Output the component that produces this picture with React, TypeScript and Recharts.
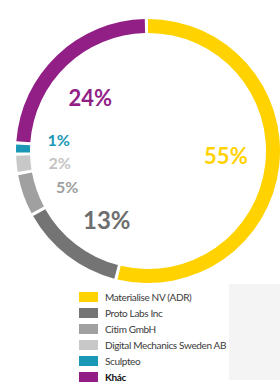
import React from 'react';
import { PieChart, Pie, Cell, Legend } from 'recharts';

const companies = [
  'Materialise NV (ADR)',
  'Proto Labs Inc',
  'Citim GmbH',
  'Digital Mechanics Sweden AB',
  'Sculpteo',
  'Khác',
];
const shares = [55, 13, 5, 2, 1, 24];
const shareLabels = ['55%', '13%', '5%', '2%', '1%', '24%'];

const COLORS = ['#FFD200', '#747474', '#A0A0A0', '#C8C8C8', '#1A98B6', '#921F86'];
const LABEL_COLORS = ['#FFD200', '#6E6E6E', '#9E9E9E', '#C4C4C4', '#1A98B6', '#921F86'];
// label placement: radius and angle (degrees clockwise from 12 o'clock)
const LABEL_POS = [
  { r: 78, a: 93, size: 22 },
  { r: 80, a: 211, size: 24 },
  { r: 88, a: 246.5, size: 16 },
  { r: 89, a: 262.6, size: 16 },
  { r: 90, a: 277.4, size: 16 },
  { r: 79, a: 313, size: 22 },
];

const data = companies.map((name, i) => ({ name, value: shares[i] }));

const renderLabel = (props: any) => {
  const { cx, cy, index } = props;
  const p = LABEL_POS[index];
  const rad = (p.a * Math.PI) / 180;
  const x = cx + p.r * Math.sin(rad);
  const y = cy - p.r * Math.cos(rad);
  return (
    <text
      x={x}
      y={y}
      fill={LABEL_COLORS[index]}
      fontSize={p.size}
      fontWeight={700}
      fontFamily="Lato, sans-serif"
      textAnchor="middle"
      dominantBaseline="central"
    >
      {shareLabels[index]}
    </text>
  );
};

// legend keeps the data order
const renderLegend = () => (
  <div
    style={{
      fontFamily: 'Lato, sans-serif',
      fontSize: 10,
      letterSpacing: '-0.35px',
      color: '#3a3a3a',
      whiteSpace: 'nowrap',
    }}
  >
    {companies.map((name, i) => (
      <div key={name} style={{ display: 'flex', alignItems: 'center', height: 16 }}>
        <span
          style={{
            display: 'inline-block',
            flexShrink: 0,
            width: 19,
            height: 10,
            background: COLORS[i],
            marginRight: 7,
          }}
        />
        <span style={{ fontWeight: i === 5 ? 700 : 400, color: i === 5 ? '#111' : '#3a3a3a' }}>
          {name}
        </span>
      </div>
    ))}
  </div>
);

export default function App() {
  return (
    <div style={{ position: 'absolute', left: 0, top: 0, width: 280, height: 391, background: '#fff' }}>
      <div
        style={{
          position: 'absolute',
          left: 229,
          top: 284,
          width: 51,
          height: 96,
          background: '#F4F4F4',
        }}
      />
      <PieChart width={280} height={391} style={{ position: 'absolute', left: 0, top: 0 }}>
        <Pie
          data={data}
          dataKey="value"
          nameKey="name"
          cx={143}
          cy={146}
          innerRadius={118}
          outerRadius={132}
          startAngle={90}
          endAngle={-270}
          paddingAngle={1.4}
          stroke="none"
          label={renderLabel}
          labelLine={false}
          isAnimationActive={false}
        >
          {data.map((d, i) => (
            <Cell key={d.name} fill={COLORS[i]} />
          ))}
        </Pie>
        <Legend
          content={renderLegend}
          wrapperStyle={{ position: 'absolute', left: 79, top: 289, width: 150 }}
        />
      </PieChart>
    </div>
  );
}
